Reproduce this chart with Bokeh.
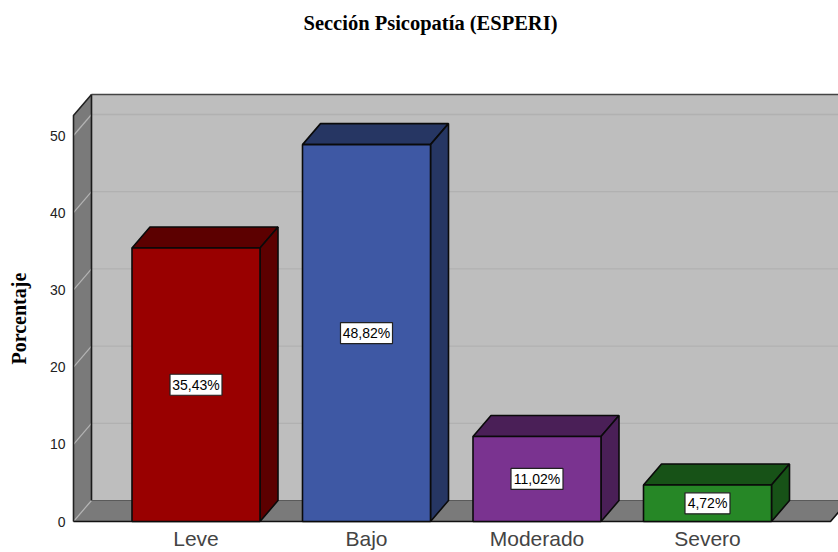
from bokeh.plotting import figure
from bokeh.models import Range1d, FixedTicker, Title
from bokeh.core.properties import value
from bokeh.embed import file_html
from bokeh.resources import INLINE

categories = ["Leve", "Bajo", "Moderado", "Severo"]
percentages = [35.43, 48.82, 11.02, 4.72]
bar_labels = ["35,43%", "48,82%", "11,02%", "4,72%"]
y_ticks = [0, 10, 20, 30, 40, 50]
title_text = "Sección Psicopatía (ESPERI)"
y_title = "Porcentaje"

front_colors = ["#990000", "#3E58A4", "#7A3390", "#268726"]
top_colors = ["#5C0000", "#263663", "#4A1F57", "#175217"]

# scale: pixels per data unit
PX_X, PX_Y = 170.5, 7.72
W, H = 838, 552
F_L, F_R, F_T, F_B = 71, 838, 90, 523   # frame in page pixels
X0 = 195.5                               # page x of category 0
Y0 = 521                                 # page y of value 0

DX, DY = 18 / PX_X, 21 / PX_Y            # oblique depth
BW = 128 / PX_X
WALL_L = (73 - X0) / PX_X
FLOOR_R = (830 - X0) / PX_X
TOP = (521 - 115) / PX_Y
XR = (F_R + 40 - X0) / PX_X

p = figure(
    width=W, height=H, output_backend="svg", toolbar_location=None,
    x_range=Range1d((F_L - X0) / PX_X, (F_R - X0) / PX_X),
    y_range=Range1d((Y0 - F_B) / PX_Y, (Y0 - F_T) / PX_Y),
    min_border_left=F_L, min_border_right=0,
    min_border_top=F_T, min_border_bottom=H - F_B,
    background_fill_color="white", border_fill_color="white",
)
p.outline_line_color = None
p.grid.visible = False

# back wall
p.patch([WALL_L + DX, XR, XR, WALL_L + DX], [DY, DY, TOP + DY, TOP + DY],
        fill_color="#BEBEBE", line_color=None)
# left wall
p.patch([WALL_L, WALL_L + DX, WALL_L + DX, WALL_L], [0, DY, TOP + DY, TOP],
        fill_color="#7A7A7A", line_color=None)
# floor
p.patch([WALL_L, FLOOR_R, FLOOR_R + DX, XR, WALL_L + DX], [0, 0, DY, DY, DY],
        fill_color="#7A7A7A", line_color=None)

# grid lines
for t in y_ticks:
    if t:
        p.line([WALL_L + DX, XR], [t + DY, t + DY], line_color="#B1B1B1", line_width=1.3)
    p.line([WALL_L, WALL_L + DX], [t, t + DY], line_color="#B4B4B4", line_width=1.2)

# wall edges
p.line([WALL_L + DX, WALL_L + DX], [DY, TOP + DY], line_color="#1A1A1A", line_width=1.6)
p.line([WALL_L + DX, XR], [TOP + DY, TOP + DY], line_color="#444444", line_width=1.6)
p.line([WALL_L + DX, WALL_L, WALL_L], [TOP + DY, TOP, 0], line_color="#222222", line_width=1.6)
p.line([WALL_L + DX, XR], [DY, DY], line_color="#5A5A5A", line_width=1.2)
p.line([WALL_L, FLOOR_R, FLOOR_R + DX], [0, 0, DY], line_color="#111111", line_width=1.6)

# bars
xs = list(range(len(categories)))
for x, v, fc, tc in zip(xs, percentages, front_colors, top_colors):
    l, r = x - BW / 2, x + BW / 2
    p.patch([l, l + DX, r + DX, r], [v, v + DY, v + DY, v],
            fill_color=tc, line_color="#0A0A0A", line_width=1.6)
    p.patch([r, r + DX, r + DX, r], [0, DY, v + DY, v],
            fill_color=tc, line_color="#0A0A0A", line_width=1.6)
    p.quad(left=l, right=r, bottom=0, top=v,
           fill_color=fc, line_color="#0A0A0A", line_width=1.6)

# value boxes
mids = [v / 2 for v in percentages]
box_w = [52, 52, 52, 45]
p.rect(x=xs, y=mids, width=box_w, height=21, width_units="screen", height_units="screen",
       fill_color="white", line_color="#222222", line_width=1.2)
p.text(x=xs, y=mids, text=bar_labels, text_align="center", text_baseline="middle",
       text_font=value("Liberation Sans"), text_font_size="14px", text_color="black")

# axes
p.yaxis.ticker = FixedTicker(ticks=y_ticks)
p.yaxis.axis_line_color = None
p.yaxis.major_tick_line_color = None
p.yaxis.minor_tick_line_color = None
p.yaxis.major_label_text_font = "Liberation Sans"
p.yaxis.major_label_text_font_size = "14px"
p.yaxis.major_label_text_color = "#222222"
p.yaxis.major_label_standoff = 6
p.yaxis.major_tick_in = 0
p.yaxis.major_tick_out = 0

p.xaxis.ticker = FixedTicker(ticks=xs)
p.xaxis.major_label_overrides = {i: c for i, c in enumerate(categories)}
p.xaxis.axis_line_color = None
p.xaxis.major_tick_line_color = None
p.xaxis.minor_tick_line_color = None
p.xaxis.major_label_text_font = "Liberation Sans"
p.xaxis.major_label_text_font_size = "21px"
p.xaxis.major_label_text_color = "#444444"
p.xaxis.major_label_standoff = 3
p.xaxis.major_tick_in = 0
p.xaxis.major_tick_out = 0

# title and y title; blank titles keep the real ones clear of the plot
p.add_layout(Title(text=" ", text_font_size="13px", standoff=40), "above")
p.title = Title(text=title_text, align="left", offset=303 - F_L, standoff=0,
                text_font="Liberation Serif", text_font_style="bold",
                text_font_size="20.5px", text_color="black")
p.add_layout(Title(text=" ", text_font_size="13px", standoff=0), "left")
p.add_layout(Title(text=y_title, align="left", offset=F_B - 364, standoff=0,
                   text_font="Liberation Serif", text_font_style="bold",
                   text_font_size="20px", text_color="black"), "left")

open("out.html", "w").write(file_html(p, INLINE))
